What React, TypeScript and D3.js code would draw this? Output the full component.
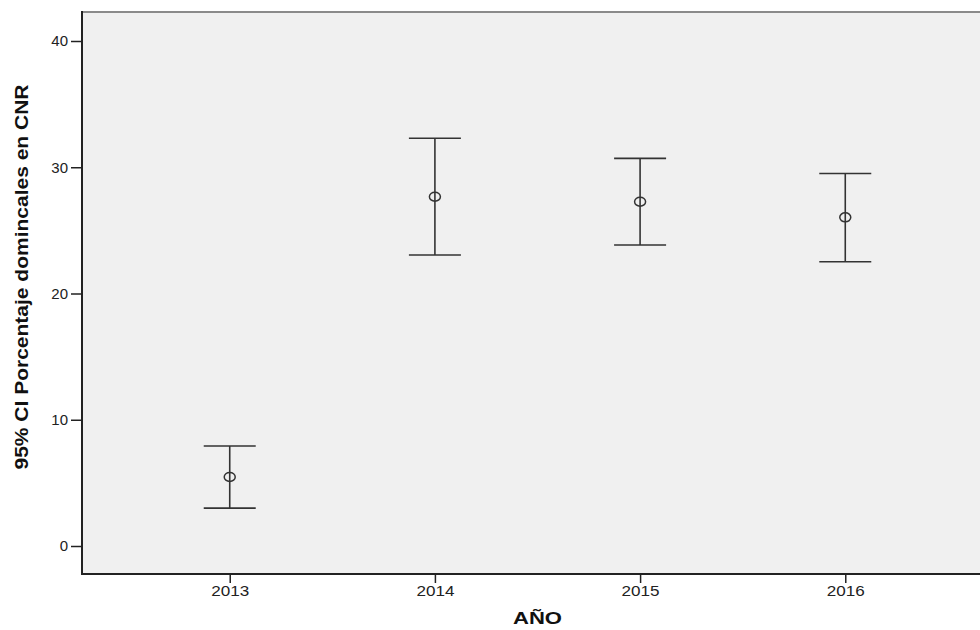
import React, { useEffect, useRef } from "react";
import * as d3 from "d3";

// data
const years = ["2013", "2014", "2015", "2016"];
const means = [5.47, 27.67, 27.27, 26.03];
const lowers = [3.0, 23.05, 23.84, 22.52];
const uppers = [7.92, 32.3, 30.7, 29.5];
const yTicks = [0, 10, 20, 30, 40];

const FONT = "Arial, 'Liberation Sans', sans-serif";

export default function App() {
  const ref = useRef<SVGSVGElement>(null);

  useEffect(() => {
    const svg = d3.select(ref.current);
    svg.selectAll("*").remove();

    const left = 82, top = 12, right = 993, bottom = 574;

    const x = d3.scalePoint().domain(years).range([left, right]).padding(0.72);
    const y = d3.scaleLinear().domain([0, 40]).range([546, 41]);

    // plot background
    svg.append("rect")
      .attr("x", left).attr("y", top)
      .attr("width", right - left).attr("height", bottom - top)
      .attr("fill", "#f0f0f0");

    // top border is grey
    svg.append("line")
      .attr("x1", left).attr("x2", right)
      .attr("y1", top).attr("y2", top)
      .attr("stroke", "#8a8a8a").attr("stroke-width", 2);

    // y axis
    const yAxis = svg.append("g").attr("transform", `translate(${left},0)`)
      .call(d3.axisLeft(y).tickValues(yTicks).tickSize(11).tickPadding(3).tickSizeOuter(0));
    yAxis.select(".domain").remove();
    yAxis.append("line")
      .attr("x1", 0).attr("x2", 0).attr("y1", top - 1).attr("y2", bottom + 1)
      .attr("stroke", "#222").attr("stroke-width", 2);
    yAxis.selectAll(".tick line").attr("stroke", "#222").attr("stroke-width", 1.5);
    yAxis.selectAll(".tick text")
      .attr("font-family", FONT).attr("font-size", 15).attr("fill", "#222");

    // x axis
    const xAxis = svg.append("g").attr("transform", `translate(0,${bottom})`)
      .call(d3.axisBottom(x).tickSize(9).tickPadding(2).tickSizeOuter(0));
    xAxis.select(".domain").remove();
    xAxis.append("line")
      .attr("x1", left - 1).attr("x2", right).attr("y1", 0).attr("y2", 0)
      .attr("stroke", "#222").attr("stroke-width", 2);
    xAxis.selectAll(".tick line").attr("stroke", "#222").attr("stroke-width", 1.5);
    xAxis.selectAll(".tick text")
      .attr("font-family", FONT).attr("font-size", 15).attr("fill", "#222")
      .attr("textLength", 38).attr("lengthAdjust", "spacingAndGlyphs");

    const rows = years.map((yr, i) => ({ yr, m: means[i], lo: lowers[i], hi: uppers[i] }));
    const cap = 26;
    const g = svg.append("g").attr("stroke", "#333").attr("stroke-width", 1.6).attr("fill", "none");

    g.selectAll(".stem").data(rows).join("line").attr("class", "stem")
      .attr("x1", d => x(d.yr)!).attr("x2", d => x(d.yr)!)
      .attr("y1", d => y(d.hi)).attr("y2", d => y(d.lo));
    g.selectAll(".capHi").data(rows).join("line").attr("class", "capHi")
      .attr("x1", d => x(d.yr)! - cap).attr("x2", d => x(d.yr)! + cap)
      .attr("y1", d => y(d.hi)).attr("y2", d => y(d.hi));
    g.selectAll(".capLo").data(rows).join("line").attr("class", "capLo")
      .attr("x1", d => x(d.yr)! - cap).attr("x2", d => x(d.yr)! + cap)
      .attr("y1", d => y(d.lo)).attr("y2", d => y(d.lo));
    g.selectAll("ellipse").data(rows).join("ellipse")
      .attr("cx", d => x(d.yr)!).attr("cy", d => y(d.m))
      .attr("rx", 5.5).attr("ry", 4.5)
      .attr("fill", "none").attr("stroke", "#333").attr("stroke-width", 1.5);

    // axis titles
    svg.append("text")
      .attr("x", (left + right) / 2).attr("y", 624)
      .attr("text-anchor", "middle")
      .attr("font-family", FONT)
      .attr("font-weight", "bold").attr("font-size", 16).attr("fill", "#111")
      .attr("textLength", 49).attr("lengthAdjust", "spacingAndGlyphs")
      .text("AÑO");

    svg.append("text")
      .attr("transform", `translate(28,277) rotate(-90)`)
      .attr("text-anchor", "middle")
      .attr("font-family", FONT)
      .attr("font-weight", "bold").attr("font-size", 19).attr("fill", "#111")
      .attr("textLength", 385).attr("lengthAdjust", "spacingAndGlyphs")
      .text("95% CI Porcentaje domincales en CNR");
  }, []);

  return (
    <svg ref={ref} style={{ position: "absolute", left: 0, top: 0, background: "#fff" }} width={980} height={630} />
  );
}
